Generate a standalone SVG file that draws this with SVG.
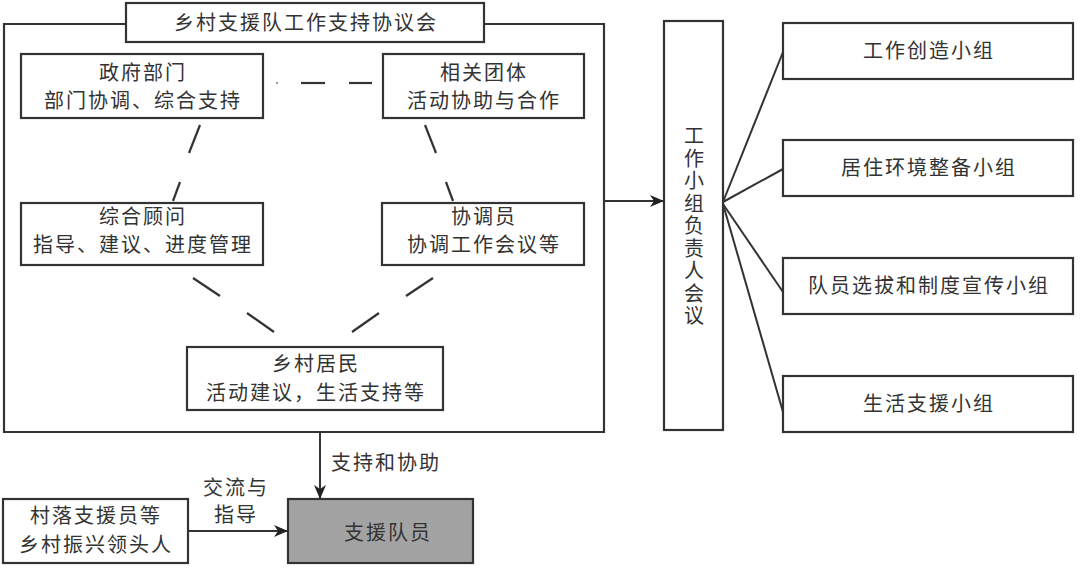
<svg xmlns="http://www.w3.org/2000/svg" width="1080" height="569" viewBox="0 0 1080 569">
<defs>
<style>
.box{fill:#fff;stroke:#333;stroke-width:2.2}
.gray{fill:#a3a3a3;stroke:#333;stroke-width:2.2}
.t{font-family:"Noto Sans CJK SC","Noto Sans",sans-serif;font-size:20px;fill:#333;text-anchor:middle;letter-spacing:2px}
.v{font-family:"Noto Sans CJK SC","Noto Sans",sans-serif;font-size:20px;fill:#333;text-anchor:middle;letter-spacing:2.5px;writing-mode:vertical-rl}
.ln{stroke:#333;stroke-width:2;fill:none}
.ds{stroke:#333;stroke-width:2.2;fill:none}
</style>
<marker id="ah" viewBox="0 0 14 12" refX="13" refY="6" markerWidth="14" markerHeight="12" markerUnits="userSpaceOnUse" orient="auto">
<path d="M0,0 L14,6 L0,12 L4,6 Z" fill="#222"/>
</marker>
</defs>
<rect width="1080" height="569" fill="#fff"/>

<g id="council">
<path class="ln" d="M126,24 H4 V432 H604 V24 H484" style="stroke-width:2.2"/>
</g>
<g id="title">
<rect class="box" x="126" y="3" width="358" height="39"/>
<text class="t" x="306" y="30">乡村支援队工作支持协议会</text>
</g>
<g id="gov">
<rect class="box" x="21" y="54" width="242" height="64"/>
<text class="t" x="143" y="80">政府部门</text>
<text class="t" x="143" y="108">部门协调、综合支持</text>
</g>
<g id="groups">
<rect class="box" x="383" y="54" width="201" height="64"/>
<text class="t" x="484" y="80">相关团体</text>
<text class="t" x="484" y="108">活动协助与合作</text>
</g>
<g id="advisor">
<rect class="box" x="21" y="203" width="242" height="62"/>
<text class="t" x="143" y="224">综合顾问</text>
<text class="t" x="143" y="252">指导、建议、进度管理</text>
</g>
<g id="coordinator">
<rect class="box" x="382" y="203" width="202" height="62"/>
<text class="t" x="484" y="224">协调员</text>
<text class="t" x="484" y="252">协调工作会议等</text>
</g>
<g id="residents">
<rect class="box" x="187" y="347" width="256" height="63"/>
<text class="t" x="316" y="371">乡村居民</text>
<text class="t" x="316" y="400">活动建议，生活支持等</text>
</g>
<g id="leaders">
<rect class="box" x="664" y="21" width="59" height="409"/>
<text class="v" x="694" y="227">工作小组负责人会议</text>
</g>
<g id="g1">
<rect class="box" x="783" y="23" width="290" height="56"/>
<text class="t" x="929" y="58">工作创造小组</text>
</g>
<g id="g2">
<rect class="box" x="783" y="140" width="290" height="56"/>
<text class="t" x="929" y="175">居住环境整备小组</text>
</g>
<g id="g3">
<rect class="box" x="783" y="258" width="290" height="56"/>
<text class="t" x="929" y="293">队员选拔和制度宣传小组</text>
</g>
<g id="g4">
<rect class="box" x="783" y="376" width="290" height="56"/>
<text class="t" x="929" y="411">生活支援小组</text>
</g>
<g id="village">
<rect class="box" x="3" y="499" width="185" height="64"/>
<text class="t" x="96" y="523">村落支援员等</text>
<text class="t" x="96" y="552">乡村振兴领头人</text>
</g>
<g id="members">
<rect class="gray" x="288" y="499" width="185" height="64"/>
<text class="t" x="388" y="540">支援队员</text>
</g>

<g id="connectors">
<line class="ds" x1="276" y1="83" x2="278" y2="83" style="stroke:#999"/>
<line class="ds" x1="301" y1="83" x2="325" y2="83"/>
<line class="ds" x1="349" y1="83" x2="372" y2="83"/>
<line class="ds" x1="200" y1="125" x2="189" y2="153"/>
<line class="ds" x1="180" y1="182" x2="173" y2="201"/>
<line class="ds" x1="425" y1="125" x2="436" y2="153"/>
<line class="ds" x1="446" y1="182" x2="453" y2="201"/>
<line class="ds" x1="193" y1="278" x2="220" y2="296"/>
<line class="ds" x1="247" y1="313" x2="274" y2="332"/>
<line class="ds" x1="433" y1="278" x2="406" y2="296"/>
<line class="ds" x1="379" y1="313" x2="352" y2="332"/>
<line class="ln" x1="604" y1="201" x2="663" y2="201" marker-end="url(#ah)"/>
<line class="ln" x1="723" y1="202" x2="783" y2="52"/>
<line class="ln" x1="723" y1="202" x2="783" y2="169"/>
<line class="ln" x1="723" y1="204" x2="783" y2="292"/>
<line class="ln" x1="723" y1="204" x2="783" y2="412"/>
<line class="ln" x1="320" y1="432" x2="320" y2="498" marker-end="url(#ah)"/>
<line class="ln" x1="188" y1="531" x2="287" y2="531" marker-end="url(#ah)"/>
<text class="t" x="386" y="470">支持和协助</text>
<text class="t" x="236" y="495">交流与</text>
<text class="t" x="236" y="522">指导</text>
</g>
</svg>
